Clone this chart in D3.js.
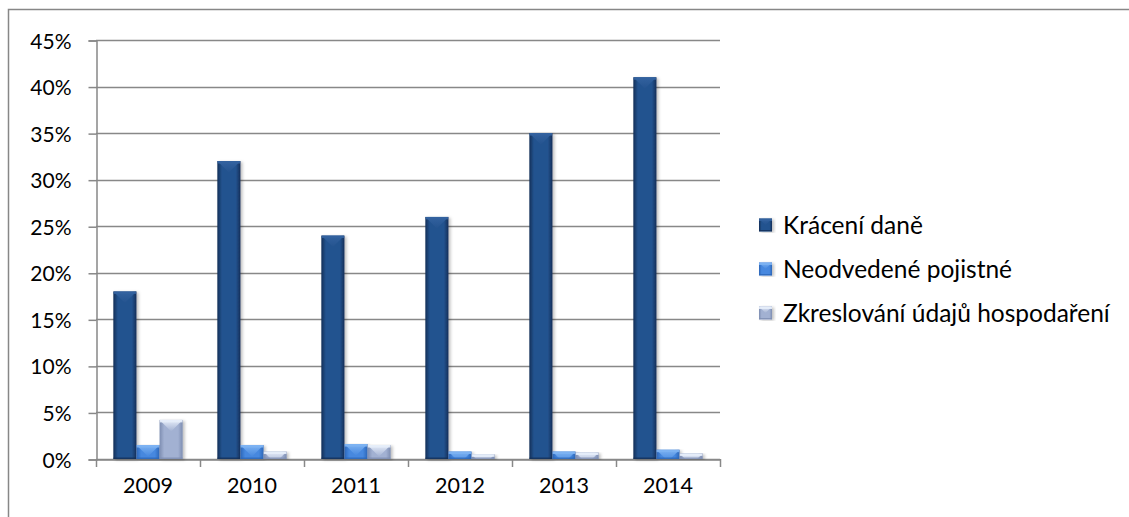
<!DOCTYPE html>
<html><head><meta charset="utf-8">
<script src="https://cdn.jsdelivr.net/npm/d3@7"></script>
<style>
html,body{margin:0;padding:0;background:#fff;}
svg{display:block;}
text{font-family:Lato,"Open Sans",sans-serif;fill:#000;}
</style></head>
<body>
<svg id="chart" width="1129" height="517"></svg>
<script>
const years = ["2009","2010","2011","2012","2013","2014"];
const seriesNames = ["Krácení daně","Neodvedené pojistné","Zkreslování údajů hospodaření"];
const kraceni = [18, 32, 24, 26, 35, 41];
const neodvedene = [1.5, 1.5, 1.6, 0.8, 0.8, 1.0];
const zkreslovani = [4.2, 0.8, 1.5, 0.5, 0.7, 0.6];
const yTicks = [0,5,10,15,20,25,30,35,40,45];

const seriesValues = [kraceni, neodvedene, zkreslovani];
const styles = [
  {edge:"#142f58", mid:"#24538f", top:"#33629f", side:"#1d4680"},
  {edge:"#2c66b8", mid:"#4688df", top:"#7db2f2", side:"#356fc4"},
  {edge:"#7d8db1", mid:"#a2b1d2", top:"#e6edf9", side:"#8d9cc0"}
];

const svg = d3.select("#chart");
const W = 1129, H = 517;
const plot = {left:96, right:720, top:40, bottom:459};

const x0 = d3.scaleBand().domain(years).range([plot.left, plot.right]).paddingInner(0).paddingOuter(0);
// gap width 150%: band = 4.5 bar widths; 0.75 bar width padding each side
const barW = x0.bandwidth()/4.5;
const y = d3.scaleLinear().domain([0,45]).range([plot.bottom, plot.top]);

const defs = svg.append("defs");
styles.forEach((s,i)=>{
  const g = defs.append("linearGradient").attr("id","g"+i).attr("x1","0").attr("x2","1").attr("y1","0").attr("y2","0");
  g.append("stop").attr("offset","0").attr("stop-color",s.edge);
  g.append("stop").attr("offset","0.2").attr("stop-color",s.mid);
  g.append("stop").attr("offset","0.8").attr("stop-color",s.mid);
  g.append("stop").attr("offset","1").attr("stop-color",s.edge);
  const t = defs.append("linearGradient").attr("id","t"+i).attr("x1","0").attr("x2","0").attr("y1","0").attr("y2","1");
  t.append("stop").attr("offset","0").attr("stop-color",s.top);
  t.append("stop").attr("offset","1").attr("stop-color",s.mid);
});
const shadow = defs.append("filter").attr("id","sh").attr("x","-20%").attr("y","-5%").attr("width","150%").attr("height","115%");
shadow.append("feDropShadow").attr("dx",2).attr("dy",1).attr("stdDeviation",1.5).attr("flood-color","#000").attr("flood-opacity",0.25);

// outer border
svg.append("path").attr("d",`M8.5,${H} L8.5,9.5 L${W},9.5`).attr("fill","none").attr("stroke","#878787").attr("stroke-width",1.5);

// gridlines
svg.append("g").selectAll("line").data(yTicks).join("line")
  .attr("x1",plot.left).attr("x2",plot.right)
  .attr("y1",d=>Math.round(y(d))+0.5).attr("y2",d=>Math.round(y(d))+0.5)
  .attr("stroke","#888").attr("stroke-width",1.5);

// y axis
const yAxis = d3.axisLeft(y).tickValues(yTicks).tickFormat(d=>d+"%").tickSize(8).tickPadding(17);
const gy = svg.append("g").attr("transform",`translate(${plot.left+0.5},0.5)`).call(yAxis);
gy.select(".domain").attr("stroke","#888").attr("stroke-width",1.5);
gy.selectAll(".tick line").attr("stroke","#888").attr("stroke-width",1.5);
gy.selectAll("text").style("font-size","21px").attr("dy","0.36em");

// x axis
const xAxis = d3.axisBottom(x0).tickSize(0).tickPadding(18);
const gx = svg.append("g").attr("transform",`translate(0,${plot.bottom+0.5})`).call(xAxis);
gx.select(".domain").attr("stroke","#888").attr("stroke-width",1.5);
gx.selectAll("text").style("font-size","21.5px");
// category boundary ticks
const bounds = years.map(yr=>x0(yr)).concat([plot.right]);
svg.append("g").selectAll("line").data(bounds).join("line")
  .attr("x1",d=>Math.round(d)+0.5).attr("x2",d=>Math.round(d)+0.5)
  .attr("y1",plot.bottom).attr("y2",plot.bottom+8)
  .attr("stroke","#888").attr("stroke-width",1.5);

// bars
function drawBar(g, bx, by, bw, bh, si, id){
  const s = styles[si];
  const cp = defs.append("clipPath").attr("id","c"+id);
  cp.append("rect").attr("x",bx).attr("y",by).attr("width",bw).attr("height",bh);
  const gg = g.append("g");
  gg.append("rect").attr("x",bx).attr("y",by).attr("width",bw).attr("height",bh)
    .attr("fill",`url(#g${si})`).attr("filter","url(#sh)");
  const inner = gg.append("g").attr("clip-path",`url(#c${id})`);
  const b = bw/2;
  inner.append("path").attr("d",`M${bx},${by} L${bx+bw},${by} L${bx+bw/2},${by+b} Z`).attr("fill",`url(#t${si})`);
  inner.append("rect").attr("x",bx).attr("y",by).attr("width",bw).attr("height",Math.min(2.5,bh)).attr("fill",s.top).attr("opacity",0.9);
  inner.append("rect").attr("x",bx).attr("y",by+bh-1.5).attr("width",bw).attr("height",1.5).attr("fill",s.edge).attr("opacity",0.8);
}

const barsG = svg.append("g");
let id = 0;
years.forEach((yr,yi)=>{
  seriesValues.forEach((vals,si)=>{
    const bx = x0(yr) + barW*0.75 + si*barW;
    const by = y(vals[yi]);
    const bh = y(0) - by;
    drawBar(barsG, bx, by, barW, bh, si, id++);
  });
});

// legend
const legend = svg.append("g");
const legY = d3.scalePoint().domain(seriesNames).range([225, 313]);
seriesNames.forEach((n,si)=>{
  const cy = legY(n);
  drawBar(legend, 759, cy-6.5, 13, 13, si, "L"+si);
  legend.append("text").attr("x",783).attr("y",cy).attr("dy","0.36em").style("font-size","24.5px").text(n);
});
</script>
</body></html>
